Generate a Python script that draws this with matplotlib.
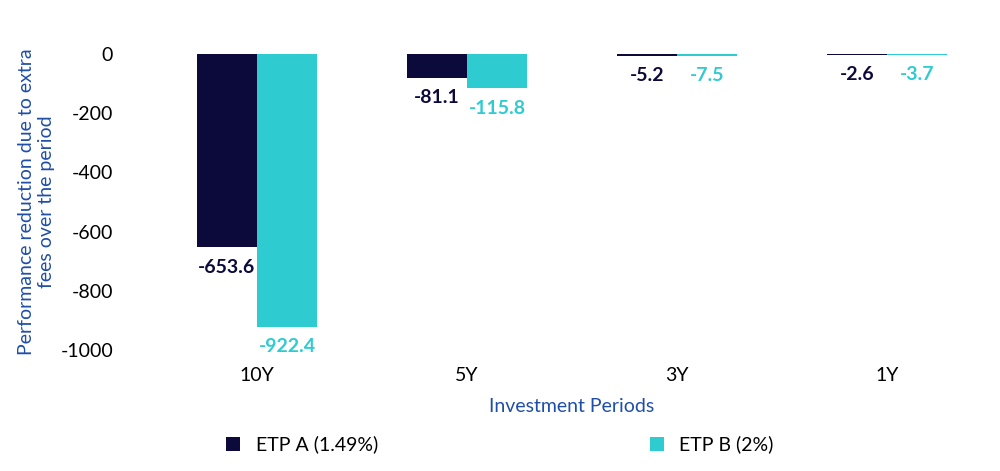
import matplotlib.pyplot as plt
import numpy as np

periods = ['10Y', '5Y', '3Y', '1Y']
etp_a = [-653.6, -81.1, -5.2, -2.6]
etp_b = [-922.4, -115.8, -7.5, -3.7]
dark = '#0B0A3A'
cyan = '#2ECBD1'
blue = '#1F4EA8'

plt.rcParams['font.family'] = ['Lato', 'DejaVu Sans']
plt.rcParams['axes.unicode_minus'] = False
fig = plt.figure(figsize=(10, 4.71), dpi=100)
ax = fig.add_axes([0.152, 0.257, 0.84, 0.628])
x = np.arange(len(periods))
w = 0.286
ax.bar(x - w / 2, etp_a, w, color=dark, label='ETP A (1.49%)')
ax.bar(x + w / 2, etp_b, w, color=cyan, label='ETP B (2%)')
for i in range(len(periods)):
    ax.annotate(f'{etp_a[i]}', (x[i] - w / 2, etp_a[i]), xytext=(0, -8), textcoords='offset points',
                ha='center', va='top', fontsize=14, fontweight='bold', color=dark, annotation_clip=False)
    ax.annotate(f'{etp_b[i]}', (x[i] + w / 2, etp_b[i]), xytext=(0, -8), textcoords='offset points',
                ha='center', va='top', fontsize=14, fontweight='bold', color=cyan, annotation_clip=False)
ax.set_xlim(-0.5, 3.5)
ax.set_ylim(-1000, 0)
ax.set_yticks([0, -200, -400, -600, -800, -1000])
ax.set_xticks(x)
ax.set_xticklabels(periods)
ax.tick_params(length=0, labelsize=14, pad=12)
ax.tick_params(axis='y', pad=28)
for s in ax.spines.values():
    s.set_visible(False)
ax.set_ylabel('Performance reduction due to extra\nfees over the period', color=blue, fontsize=14)
ax.set_xlabel('Investment Periods', color=blue, fontsize=14, labelpad=10)
fig.legend(loc='lower center', bbox_to_anchor=(0.5, 0.0), ncol=2, frameon=False, fontsize=14,
           handlelength=0.7, handleheight=0.7, columnspacing=14)
fig.savefig('out.png')
